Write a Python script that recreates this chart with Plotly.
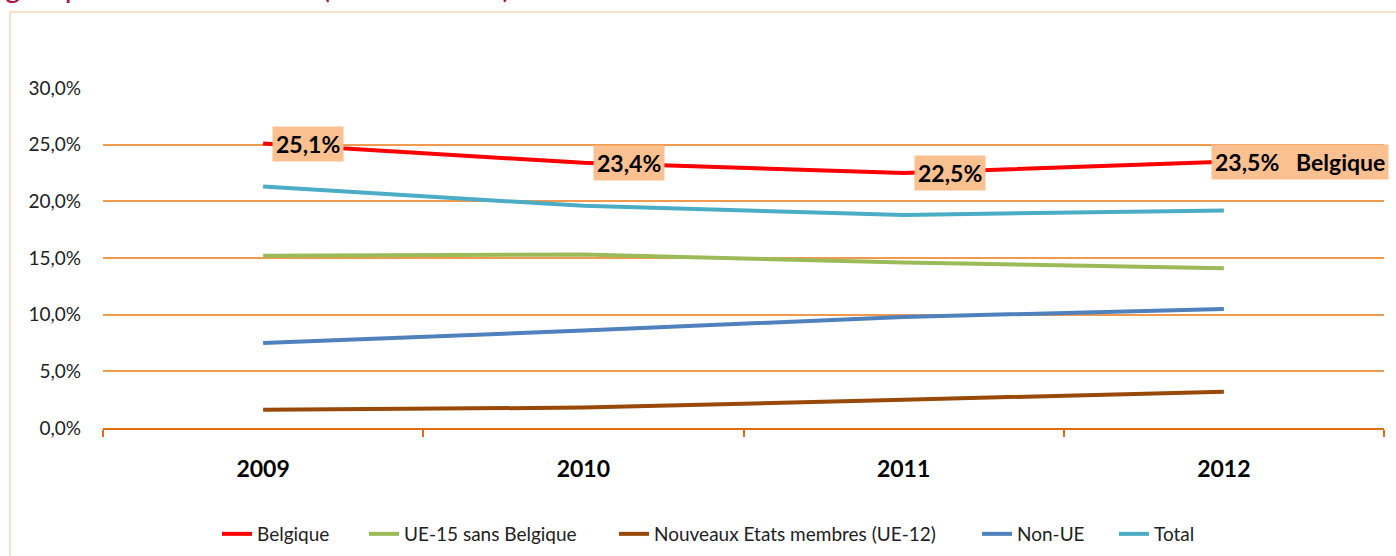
import plotly.graph_objects as go

# data (pourcentages)
years = ["2009", "2010", "2011", "2012"]
belgique = [25.1, 23.4, 22.5, 23.5]
ue15 = [15.2, 15.3, 14.6, 14.1]
nouveaux = [1.6, 1.8, 2.5, 3.2]
non_ue = [7.5, 8.6, 9.8, 10.5]
total = [21.3, 19.6, 18.8, 19.2]

names = ["Belgique", "UE-15 sans Belgique", "Nouveaux Etats membres (UE-12)", "Non-UE", "Total"]
values = [belgique, ue15, nouveaux, non_ue, total]
colors = ["#FF0000", "#9BBB59", "#984807", "#4F81BD", "#4BACC6"]

FONT = "Lato, 'Open Sans', sans-serif"
W, H = 1396, 556
L, R, T, B = 103, 12, 88, 128


def px_x(p):
    return (p - L) / (W - L - R)


def px_y(p):
    return (H - B - p) / (H - T - B)


# position (pixels) du début de chaque entrée de légende
legend_x = [217, 364, 614, 977, 1114]

fig = go.Figure()
for i, (name, vals, col) in enumerate(zip(names, values, colors)):
    lg = "legend" if i == 0 else f"legend{i + 1}"
    fig.add_trace(go.Scatter(
        x=years, y=vals, mode="lines", name=name,
        line=dict(color=col, width=4),
        hoverinfo="skip", legend=lg
    ))

legends = {}
for i, lx in enumerate(legend_x):
    key = "legend" if i == 0 else f"legend{i + 1}"
    legends[key] = dict(
        x=px_x(lx), xanchor="left", y=px_y(534), yanchor="middle",
        bgcolor="rgba(0,0,0,0)", borderwidth=0,
        font=dict(family=FONT, size=19, color="#222222"),
        itemwidth=30
    )

# étiquettes de données pour Belgique
shifts = [9, 10, 10, -13]
for i, v in enumerate(belgique):
    txt = f"{v:.1f}".replace(".", ",") + "%"
    if i == len(belgique) - 1:
        txt += "&nbsp;&nbsp;&nbsp;Belgique"
    fig.add_annotation(
        x=i, y=v, xref="x", yref="y", text=f"<b>{txt}</b>",
        showarrow=False, xanchor="left", yanchor="middle",
        xshift=shifts[i], yshift=0,
        bgcolor="#FAC090", borderpad=3,
        font=dict(family=FONT, size=23, color="#000000")
    )

# cadre du graphique
fig.add_shape(type="rect", xref="paper", yref="paper",
              x0=px_x(10), x1=px_x(1420), y0=px_y(580), y1=px_y(12),
              line=dict(color="#FCD5B5", width=1.5), layer="below")

# titre (coupé en haut de l'image)
fig.add_annotation(
    xref="paper", yref="paper", x=px_x(3), y=px_y(6),
    xanchor="left", yanchor="bottom", showarrow=False,
    text="groupe de la nationalité (en % du total)",
    font=dict(family=FONT, size=30, color="#A8123F")
)

fig.update_layout(
    width=W, height=H,
    margin=dict(l=L, r=R, t=T, b=B, autoexpand=False),
    paper_bgcolor="white", plot_bgcolor="white",
    separators=", ",
    font=dict(family=FONT, color="#222222"),
    showlegend=True,
    **legends
)

fig.update_xaxes(
    type="category", range=[-0.5, 3.5],
    showgrid=False, showline=True, linecolor="#E46C0A", linewidth=2,
    ticks="outside", tickson="boundaries", ticklen=7, tickcolor="#E46C0A", tickwidth=1.5,
    tickfont=dict(family=FONT, size=23, color="#000000"),
    tickprefix="<b>", ticksuffix="</b>",
    ticklabelstandoff=19
)

fig.update_yaxes(
    range=[0, 30], dtick=5, tickformat=".1f", ticksuffix="%",
    showgrid=True, gridcolor="#F09A50", gridwidth=1.5,
    zeroline=False, showline=False, ticks="",
    tickfont=dict(family=FONT, size=19, color="#222222"),
    ticklabelstandoff=21
)

# page sans marge autour du graphique
fig.write_html("out.html", config={"displayModeBar": False},
               post_script="document.body.style.margin='0';")
